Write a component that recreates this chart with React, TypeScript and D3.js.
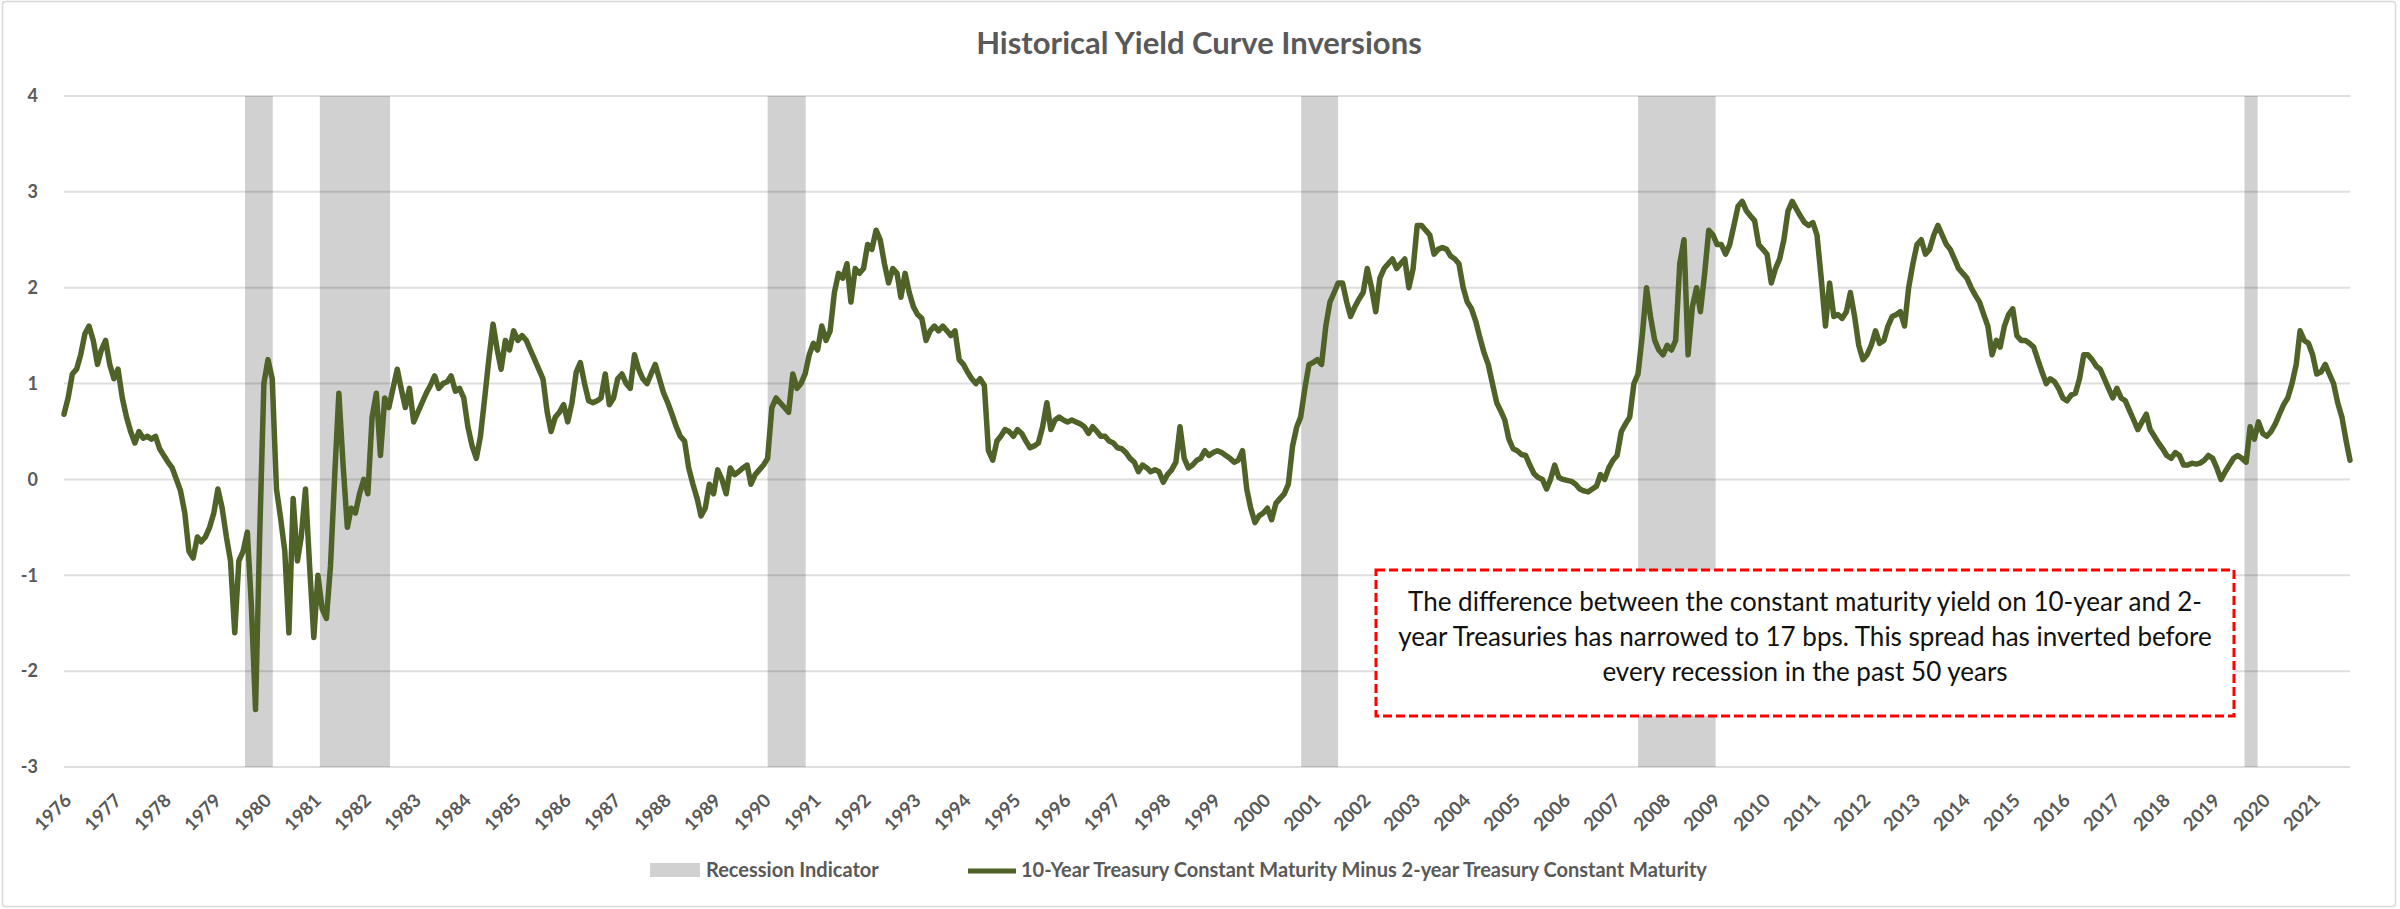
import { useEffect, useRef } from "react";
import * as d3 from "d3";

// monthly 10y-2y spread, first value is June 1976
const firstMonth = "1976-06-01";

const spread1976to1979 = [
  0.68, 0.85, 1.1, 1.15, 1.3, 1.52, 1.6, 1.45, 1.2, 1.35,
  1.45, 1.2, 1.05, 1.15, 0.85, 0.65, 0.5, 0.38, 0.5, 0.43,
  0.45, 0.42, 0.45, 0.32, 0.25, 0.18, 0.12, 0.0, -0.12, -0.35,
  -0.75, -0.82, -0.6, -0.65, -0.6, -0.5, -0.35, -0.1, -0.3, -0.6,
  -0.85, -1.6, -0.85,
];

const spread1980s = [
  -0.75, -0.55, -1.3, -2.4, -0.6, 1.0, 1.25, 1.05, -0.1, -0.4,
  -0.75, -1.6, -0.2, -0.85, -0.6, -0.1, -0.9, -1.65, -1.0, -1.35,
  -1.45, -0.9, 0.05, 0.9, 0.15, -0.5, -0.3, -0.35, -0.15, 0.0,
  -0.15, 0.65, 0.9, 0.25, 0.85, 0.75, 0.95, 1.15, 0.95, 0.75,
  0.95, 0.6, 0.7, 0.8, 0.9, 0.98, 1.08, 0.95, 1.0, 1.02,
  1.08, 0.92, 0.95, 0.85, 0.55, 0.35, 0.22, 0.45, 0.85, 1.25,
  1.62, 1.35, 1.15, 1.45, 1.35, 1.55, 1.45, 1.5, 1.45, 1.35,
  1.25, 1.15, 1.05, 0.7, 0.5, 0.65, 0.7, 0.78, 0.6, 0.8,
  1.12, 1.22, 1.0, 0.82, 0.8, 0.82, 0.85, 1.1, 0.78, 0.85,
  1.05, 1.1, 1.0, 0.95, 1.3, 1.15, 1.05, 1.0, 1.1, 1.2,
  1.05, 0.9, 0.8, 0.68, 0.55, 0.45, 0.4, 0.12, -0.05, -0.2,
  -0.38, -0.3, -0.05, -0.15, 0.1, 0.0, -0.15, 0.12, 0.05, 0.08,
];

const spread1990s = [
  0.12, 0.15, -0.05, 0.05, 0.1, 0.15, 0.22, 0.75, 0.85, 0.8,
  0.75, 0.7, 1.1, 0.95, 1.0, 1.1, 1.3, 1.42, 1.35, 1.6,
  1.45, 1.55, 1.95, 2.15, 2.1, 2.25, 1.85, 2.2, 2.15, 2.2,
  2.45, 2.4, 2.6, 2.5, 2.25, 2.05, 2.2, 2.15, 1.9, 2.15,
  1.95, 1.8, 1.72, 1.68, 1.45, 1.55, 1.6, 1.55, 1.6, 1.55,
  1.5, 1.55, 1.25, 1.2, 1.12, 1.05, 1.0, 1.05, 0.98, 0.3,
  0.2, 0.4, 0.45, 0.52, 0.5, 0.45, 0.52, 0.48, 0.4, 0.33,
  0.35, 0.38, 0.55, 0.8, 0.52, 0.62, 0.65, 0.62, 0.6, 0.62,
  0.6, 0.58, 0.55, 0.48, 0.55, 0.5, 0.45, 0.45, 0.4, 0.38,
  0.33, 0.32, 0.28, 0.22, 0.18, 0.08, 0.15, 0.12, 0.08, 0.1,
  0.08, -0.03, 0.05, 0.1, 0.18, 0.55, 0.22, 0.12, 0.15, 0.2,
  0.22, 0.3, 0.25, 0.28, 0.3, 0.28, 0.25, 0.22, 0.18, 0.2,
];

const spread2000s = [
  0.3, -0.1, -0.3, -0.45, -0.38, -0.35, -0.3, -0.42, -0.25, -0.2,
  -0.15, -0.05, 0.35, 0.55, 0.65, 0.95, 1.2, 1.22, 1.25, 1.2,
  1.6, 1.85, 1.95, 2.05, 2.05, 1.85, 1.7, 1.8, 1.88, 1.95,
  2.2, 2.0, 1.75, 2.1, 2.2, 2.25, 2.3, 2.2, 2.25, 2.3,
  2.0, 2.2, 2.65, 2.65, 2.6, 2.55, 2.35, 2.4, 2.42, 2.4,
  2.33, 2.3, 2.25, 2.0, 1.85, 1.78, 1.65, 1.48, 1.32, 1.2,
  1.0, 0.8, 0.72, 0.62, 0.42, 0.32, 0.3, 0.26, 0.25, 0.15,
  0.06, 0.02, 0.0, -0.1, 0.0, 0.15, 0.02, 0.0, -0.01, -0.02,
  -0.05, -0.1, -0.12, -0.13, -0.1, -0.07, 0.05, 0.0, 0.12, 0.2,
  0.25, 0.5, 0.58, 0.65, 1.0, 1.1, 1.5, 2.0, 1.7, 1.45,
  1.35, 1.3, 1.4, 1.35, 1.45, 2.25, 2.5, 1.3, 1.8, 2.0,
  1.75, 2.15, 2.6, 2.55, 2.45, 2.45, 2.35, 2.45, 2.65, 2.85,
];

const spread2010s = [
  2.9, 2.8, 2.75, 2.7, 2.45, 2.4, 2.35, 2.05, 2.2, 2.3,
  2.5, 2.8, 2.9, 2.82, 2.75, 2.68, 2.65, 2.68, 2.55, 2.1,
  1.6, 2.05, 1.7, 1.72, 1.68, 1.75, 1.95, 1.7, 1.4, 1.25,
  1.3, 1.4, 1.55, 1.42, 1.45, 1.6, 1.7, 1.72, 1.75, 1.6,
  2.0, 2.25, 2.45, 2.5, 2.35, 2.4, 2.55, 2.65, 2.55, 2.45,
  2.4, 2.3, 2.2, 2.15, 2.1, 2.0, 1.92, 1.85, 1.72, 1.6,
  1.3, 1.45, 1.38, 1.6, 1.72, 1.78, 1.5, 1.45, 1.45, 1.42,
  1.38, 1.25, 1.12, 1.0, 1.05, 1.02, 0.95, 0.85, 0.82, 0.88,
  0.9, 1.05, 1.3, 1.3, 1.25, 1.18, 1.15, 1.05, 0.95, 0.85,
  0.95, 0.85, 0.82, 0.72, 0.62, 0.52, 0.6, 0.68, 0.52, 0.45,
  0.38, 0.32, 0.25, 0.22, 0.28, 0.25, 0.15, 0.15, 0.17, 0.16,
  0.17, 0.2, 0.25, 0.22, 0.12, 0.0, 0.08, 0.15, 0.22, 0.25,
];

const spread2020s = [
  0.22, 0.18, 0.55, 0.42, 0.6, 0.48, 0.45, 0.5, 0.58, 0.68,
  0.78, 0.85, 1.0, 1.2, 1.55, 1.45, 1.42, 1.3, 1.1, 1.12,
  1.2, 1.1, 1.0, 0.8, 0.65, 0.4, 0.2,
];

const recessionStarts = ["1980-01-15", "1981-07-15", "1990-07-01", "2001-03-05", "2007-12-01", "2020-01-20"];
const recessionEnds = ["1980-08-05", "1982-12-10", "1991-04-05", "2001-11-30", "2009-06-20", "2020-04-25"];

const yTicks = [-3, -2, -1, 0, 1, 2, 3, 4];
const yearLabels = [
  1976, 1977, 1978, 1979, 1980, 1981, 1982, 1983, 1984, 1985, 1986, 1987,
  1988, 1989, 1990, 1991, 1992, 1993, 1994, 1995, 1996, 1997, 1998, 1999,
  2000, 2001, 2002, 2003, 2004, 2005, 2006, 2007, 2008, 2009, 2010, 2011,
  2012, 2013, 2014, 2015, 2016, 2017, 2018, 2019, 2020, 2021,
];

const title = "Historical Yield Curve Inversions";
const recessionName = "Recession Indicator";
const seriesName = "10-Year Treasury Constant Maturity Minus 2-year Treasury Constant Maturity";
const noteLines = [
  "The difference between the constant maturity yield on 10-year and 2-",
  "year Treasuries has narrowed to 17 bps. This spread has inverted before",
  "every recession in the past 50 years",
];

const font = "Lato, 'Open Sans', sans-serif";
const grey = "#595959";
const green = "#4F6228";
const band = "#d1d1d1";

function App() {
  const ref = useRef<SVGSVGElement>(null);

  useEffect(() => {
    const w = 2400;
    const h = 909;
    const svg = d3.select(ref.current).attr("width", w).attr("height", h);
    svg.selectAll("*").remove();

    const parse = d3.utcParse("%Y-%m-%d");
    const start = parse(firstMonth) as Date;
    const spread = [
      ...spread1976to1979, ...spread1980s, ...spread1990s,
      ...spread2000s, ...spread2010s, ...spread2020s,
    ];
    const points = spread.map((v, i) => ({ date: d3.utcMonth.offset(start, i), value: v }));

    const x = d3.scaleUtc()
      .domain([start, points[points.length - 1].date])
      .range([64, 2350]);
    const y = d3.scaleLinear().domain([-3, 4]).range([767, 96]);

    svg.append("rect")
      .attr("x", 2.5).attr("y", 1.5)
      .attr("width", 2393).attr("height", 905)
      .attr("rx", 3)
      .attr("fill", "white")
      .attr("stroke", "#d9d9d9")
      .attr("stroke-width", 1.5);

    svg.append("text")
      .attr("x", 1199).attr("y", 54)
      .attr("text-anchor", "middle")
      .attr("font-family", font)
      .attr("font-weight", "bold")
      .attr("font-size", 31)
      .attr("fill", grey)
      .text(title);

    // recession bands
    svg.append("g")
      .selectAll("rect")
      .data(recessionStarts.map((s, i) => [parse(s) as Date, parse(recessionEnds[i]) as Date]))
      .join("rect")
      .attr("x", d => x(d[0]))
      .attr("width", d => x(d[1]) - x(d[0]))
      .attr("y", y(4))
      .attr("height", y(-3) - y(4))
      .attr("fill", band);

    // gridlines
    svg.append("g")
      .selectAll("line")
      .data(yTicks)
      .join("line")
      .attr("x1", 64).attr("x2", 2350)
      .attr("y1", d => y(d)).attr("y2", d => y(d))
      .attr("stroke", "rgba(0,0,0,0.13)")
      .attr("stroke-width", 2);

    svg.append("g")
      .selectAll("text")
      .data(yTicks)
      .join("text")
      .attr("x", 38)
      .attr("y", d => y(d))
      .attr("dy", "0.35em")
      .attr("text-anchor", "end")
      .attr("font-family", font)
      .attr("font-weight", "bold")
      .attr("font-size", 18)
      .attr("fill", grey)
      .text(d => String(d));

    svg.append("g")
      .selectAll("text")
      .data(yearLabels)
      .join("text")
      .attr("transform", d => `translate(${x(Date.UTC(d, 5, 1)) + 4}, 797) rotate(-45)`)
      .attr("dy", "0.35em")
      .attr("text-anchor", "end")
      .attr("font-family", font)
      .attr("font-weight", "bold")
      .attr("font-size", 18.5)
      .attr("fill", grey)
      .text(d => String(d));

    const line = d3.line<{ date: Date; value: number }>()
      .x(d => x(d.date))
      .y(d => y(d.value));

    svg.append("path")
      .datum(points)
      .attr("d", line)
      .attr("fill", "none")
      .attr("stroke", green)
      .attr("stroke-width", 5.5)
      .attr("stroke-linejoin", "round")
      .attr("stroke-linecap", "round");

    // note box
    svg.append("rect")
      .attr("x", 1376).attr("y", 570)
      .attr("width", 858).attr("height", 146)
      .attr("fill", "white")
      .attr("stroke", "#ff0000")
      .attr("stroke-width", 3)
      .attr("stroke-dasharray", "9 4");

    svg.append("g")
      .selectAll("text")
      .data(noteLines)
      .join("text")
      .attr("x", 1805)
      .attr("y", (d, i) => 602 + i * 35)
      .attr("dy", "0.35em")
      .attr("text-anchor", "middle")
      .attr("font-family", font)
      .attr("font-size", 26)
      .attr("fill", "#111")
      .text(d => d);

    // legend
    const legend = svg.append("g")
      .attr("font-family", font)
      .attr("font-weight", "bold")
      .attr("font-size", 20)
      .attr("fill", grey);
    legend.append("rect")
      .attr("x", 650).attr("y", 863)
      .attr("width", 50).attr("height", 14)
      .attr("fill", band);
    legend.append("text")
      .attr("x", 706).attr("y", 870).attr("dy", "0.35em")
      .text(recessionName);
    legend.append("line")
      .attr("x1", 968).attr("x2", 1016)
      .attr("y1", 871).attr("y2", 871)
      .attr("stroke", green)
      .attr("stroke-width", 5);
    legend.append("text")
      .attr("x", 1021).attr("y", 870).attr("dy", "0.35em")
      .text(seriesName);
  }, []);

  return <svg ref={ref} style={{ position: "absolute", left: 0, top: 0 }} />;
}

export default App;
